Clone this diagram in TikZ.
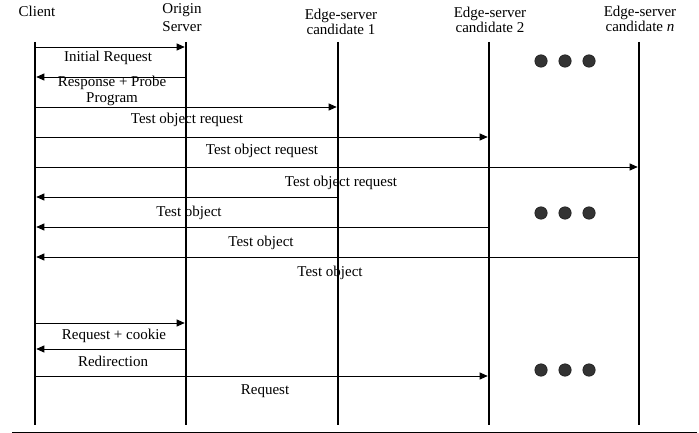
\documentclass[tikz,border=0pt]{standalone}
\usepackage{fontspec}
\setmainfont{Liberation Serif}
\usetikzlibrary{arrows.meta}
\begin{document}
\begin{tikzpicture}[x=1pt,y=-1pt,
  life/.style={line width=2.6pt},
  msg/.style={line width=0.9pt,-{Triangle[length=8pt,width=7pt]},shorten >=1.3pt},
  lbl/.style={anchor=base,inner sep=0pt,align=center,font=\fontsize{15}{16}\selectfont},
  hdr/.style={anchor=base,inner sep=0pt,align=center,font=\fontsize{15}{15.5}\selectfont},
  dotmark/.style={circle,fill=black!80,draw=black!90,line width=0.5pt,minimum size=12.5pt,inner sep=0pt},
  rule/.style={line width=0.9pt}]
\useasboundingbox (0,0) rectangle (699,433);
% lifelines
\coordinate (Ct) at (35,42);  \coordinate (Cb) at (35,425);
\coordinate (Ot) at (186,42); \coordinate (Ob) at (186,425);
\coordinate (At) at (338,42); \coordinate (Ab) at (338,425);
\coordinate (Bt) at (489,42); \coordinate (Bb) at (489,425);
\coordinate (Nt) at (639,42); \coordinate (Nb) at (639,425);
\draw[life] (Ct) -- (Cb);
\draw[life] (Ot) -- (Ob);
\draw[life] (At) -- (Ab);
\draw[life] (Bt) -- (Bb);
\draw[life] (Nt) -- (Nb);
% headers (base anchor = baseline of last line)
\node[hdr] (hC) at (37,17) {Client};
\node[hdr] (hO) at (182,32) {Origin\\[3pt]Server};
\node[hdr] (hA) at (341,35) {Edge-server\\candidate 1};
\node[hdr] (hB) at (490,33) {Edge-server\\candidate 2};
\node[hdr] (hN) at (640,32) {Edge-server\\candidate \textit{n}};
% messages
\draw[msg] (Ct |- 0,47) -- (Ot |- 0,47);
\node[lbl] (l1) at (108,62) {Initial Request};
\draw[msg] (Ot |- 0,77) -- (Ct |- 0,77);
\node[lbl] (l2) at (112,103) {Response + Probe\\Program};
\draw[msg] (Ct |- 0,107) -- (At |- 0,107);
\node[lbl] (l3) at (187,124) {Test object request};
\draw[msg] (Ct |- 0,137) -- (Bt |- 0,137);
\node[lbl] (l4) at (262,155) {Test object request};
\draw[msg] (Ct |- 0,167) -- (Nt |- 0,167);
\node[lbl] (l5) at (341,186) {Test object request};
\draw[msg] (At |- 0,197) -- (Ct |- 0,197);
\node[lbl] (l6) at (189,216) {Test object};
\draw[msg] (Bt |- 0,227) -- (Ct |- 0,227);
\node[lbl] (l7) at (261,246) {Test object};
\draw[msg] (Nt |- 0,257) -- (Ct |- 0,257);
\node[lbl] (l8) at (330,276) {Test object};
\draw[msg] (Ct |- 0,323) -- (Ot |- 0,323);
\node[lbl] (l9) at (114,339) {Request + cookie};
\draw[msg] (Ot |- 0,349) -- (Ct |- 0,349);
\node[lbl] (l10) at (113,366) {Redirection};
\draw[msg] (Ct |- 0,376) -- (Bt |- 0,376);
\node[lbl] (l11) at (265,394) {Request};
% ellipsis dots
\foreach \yy/\k in {61/1,213/2,370/3}{
  \node[dotmark] (d\k a) at (541,\yy) {};
  \node[dotmark] (d\k b) at (565,\yy) {};
  \node[dotmark] (d\k c) at (589,\yy) {};
}
% bottom rule
\coordinate (rL) at (12,432); \coordinate (rR) at (697,432);
\draw[rule] (rL) -- (rR);
\end{tikzpicture}
\end{document}
